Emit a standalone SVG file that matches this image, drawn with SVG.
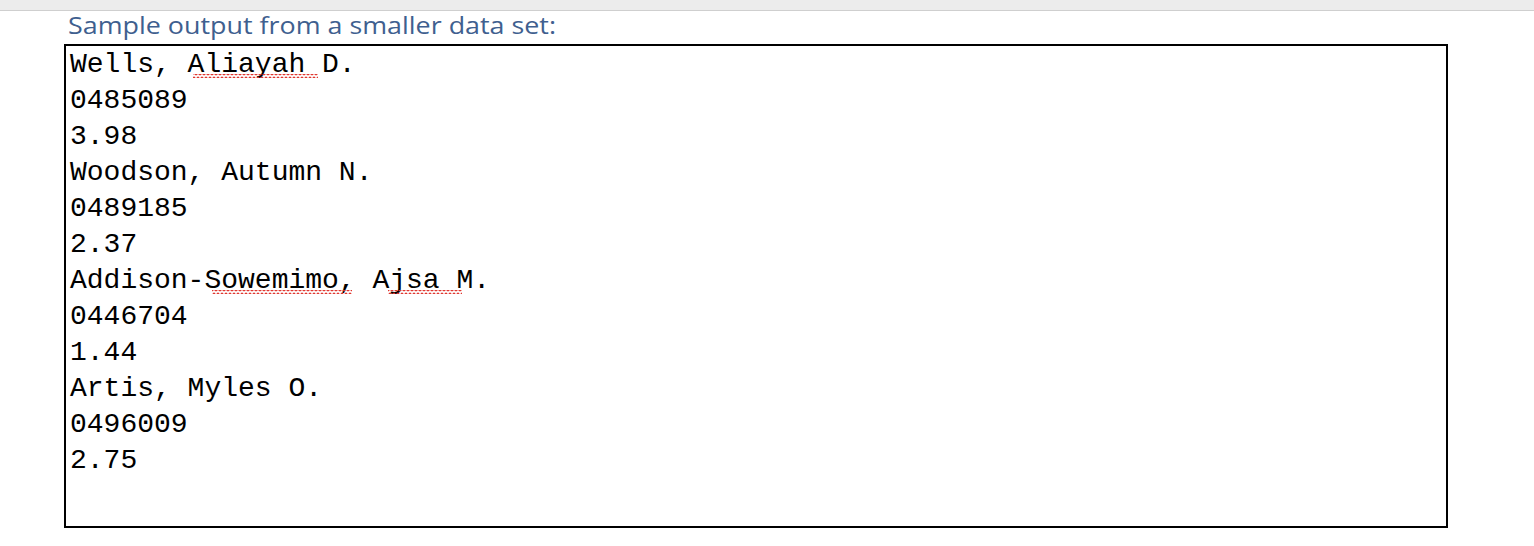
<svg xmlns="http://www.w3.org/2000/svg" width="1534" height="546" viewBox="0 0 1534 546">
<defs>
<style>
.t{font-family:"Liberation Mono","Courier New",monospace;font-size:28px;fill:#000}
.sq{fill:none;stroke:#e0312a;stroke-width:1.3}
</style>
<pattern id="w" width="4" height="4" patternUnits="userSpaceOnUse"><path d="M0,3 L2,1 L4,3" fill="none" stroke="#e0312a" stroke-width="1.2"/></pattern>
</defs>
<rect width="1534" height="546" fill="#fff"/>
<rect width="1534" height="10" fill="#ececec"/>
<line x1="0" y1="10.5" x2="1534" y2="10.5" stroke="#cfcfcf"/>
<text x="68" y="34" font-family="Open Sans,Liberation Sans,sans-serif" font-size="23" fill="#3f5f8f" textLength="488" lengthAdjust="spacingAndGlyphs">Sample output from a smaller data set:</text>
<rect x="65" y="45" width="1382" height="482" fill="none" stroke="#000" stroke-width="2"/>
<g id="lines">
<text class="t" x="70" y="72">Wells, Aliayah D.</text>
<text class="t" x="70" y="108">0485089</text>
<text class="t" x="70" y="144">3.98</text>
<text class="t" x="70" y="180">Woodson, Autumn N.</text>
<text class="t" x="70" y="216">0489185</text>
<text class="t" x="70" y="252">2.37</text>
<text class="t" x="70" y="288">Addison-Sowemimo, Ajsa M.</text>
<text class="t" x="70" y="324">0446704</text>
<text class="t" x="70" y="360">1.44</text>
<text class="t" x="70" y="396">Artis, Myles O.</text>
<text class="t" x="70" y="432">0496009</text>
<text class="t" x="70" y="468">2.75</text>
</g>
<rect x="193" y="74" width="125" height="4" fill="url(#w)"/>
<rect x="212" y="290" width="140" height="4" fill="url(#w)"/>
<rect x="388" y="290" width="74" height="4" fill="url(#w)"/>
</svg>
